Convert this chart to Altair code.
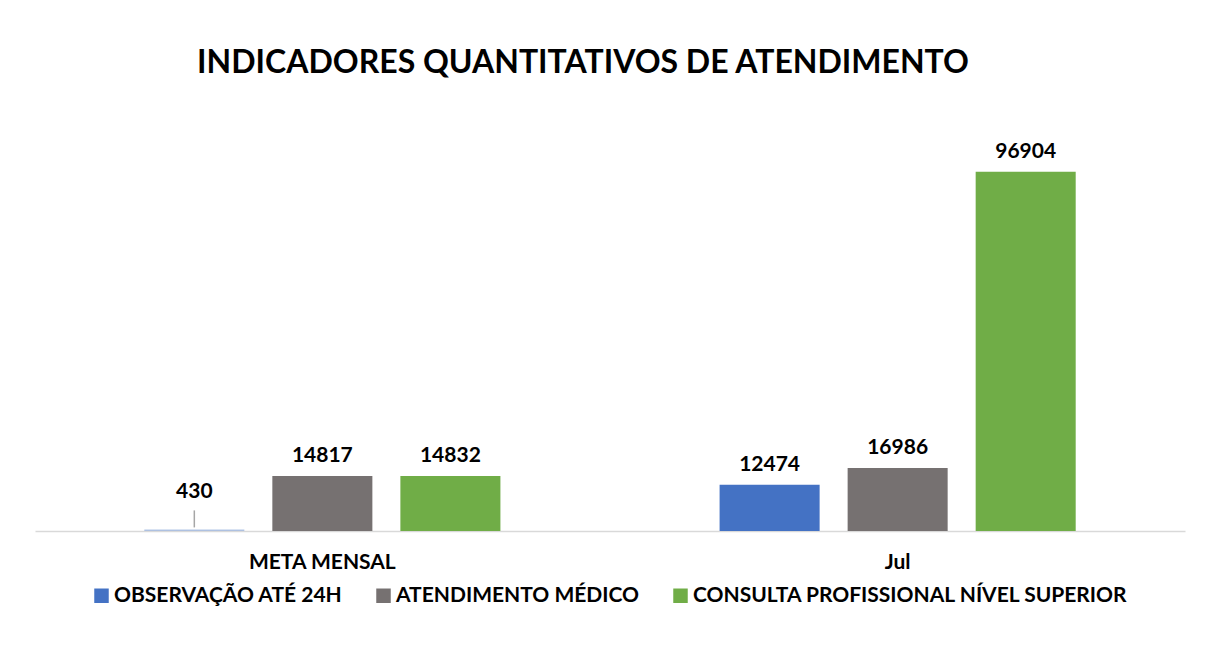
import altair as alt
import pandas as pd

categories = ["META MENSAL", "Jul"]
series = ["OBSERVAÇÃO ATÉ 24H", "ATENDIMENTO MÉDICO", "CONSULTA PROFISSIONAL NÍVEL SUPERIOR"]
values = {
    "OBSERVAÇÃO ATÉ 24H": [430, 12474],
    "ATENDIMENTO MÉDICO": [14817, 16986],
    "CONSULTA PROFISSIONAL NÍVEL SUPERIOR": [14832, 96904],
}
colors = ["#4472C4", "#767171", "#70AD47"]

rows = []
for s in series:
    for c, v in zip(categories, values[s]):
        rows.append({"cat": c, "serie": s, "valor": v, "faded": v < 1000})
df = pd.DataFrame(rows)

FONT = "Lato"

x = alt.X("cat:N", sort=categories, title=None,
          scale=alt.Scale(paddingInner=0.381, paddingOuter=0.19),
          axis=alt.Axis(labelAngle=0, labelFontSize=21, labelFontWeight="bold",
                        labelColor="#000000", labelFont=FONT, labelPadding=20,
                        ticks=False, domainColor="#D9D9D9", domainWidth=1.5))
xo = alt.XOffset("serie:N", sort=series,
                 scale=alt.Scale(paddingInner=0.21875, paddingOuter=0))
y = alt.Y("valor:Q", scale=alt.Scale(domain=[0, 120000]), axis=None)

base = alt.Chart(df).encode(x=x, xOffset=xo, y=y)

bars = base.mark_bar().encode(
    color=alt.Color("serie:N", sort=series,
                    scale=alt.Scale(domain=series, range=colors),
                    legend=alt.Legend(orient="none", legendX=56, legendY=499,
                                      direction="horizontal", title=None,
                                      labelFontSize=21, labelFontWeight="bold",
                                      labelFont=FONT, labelColor="#000000",
                                      symbolType="square", symbolSize=210,
                                      symbolStrokeWidth=0, columnPadding=30,
                                      labelOffset=2, labelLimit=600)),
    opacity=alt.condition("datum.faded", alt.value(0.4), alt.value(1.0)),
)

labels = base.transform_filter("!datum.faded").mark_text(
    dy=-20, fontSize=21, fontWeight="bold", font=FONT, color="#000000"
).encode(text=alt.Text("valor:Q", format="d"))

small_label = base.transform_filter("datum.faded").mark_text(
    dy=-37, fontSize=21, fontWeight="bold", font=FONT, color="#000000"
).encode(text=alt.Text("valor:Q", format="d"))

leader = base.transform_filter("datum.faded").mark_rule(
    color="#A6A6A6", strokeWidth=1.5, yOffset=-19, y2Offset=-2
).encode(y2="valor:Q")

chart = alt.layer(bars, labels, small_label, leader).properties(
    width=1150, height=445,
    title=alt.Title("INDICADORES QUANTITATIVOS DE ATENDIMENTO", fontSize=32,
                    font=FONT, fontWeight="bold", color="#000000",
                    anchor="middle", offset=6, dx=-27),
    autosize=alt.AutoSizeParams(type="none"),
    padding={"left": 27, "top": 78, "right": 10, "bottom": 100},
).configure(background="#FFFFFF").configure_view(strokeWidth=0)

chart.save("out.html", embed_options={"renderer": "svg", "actions": False})
